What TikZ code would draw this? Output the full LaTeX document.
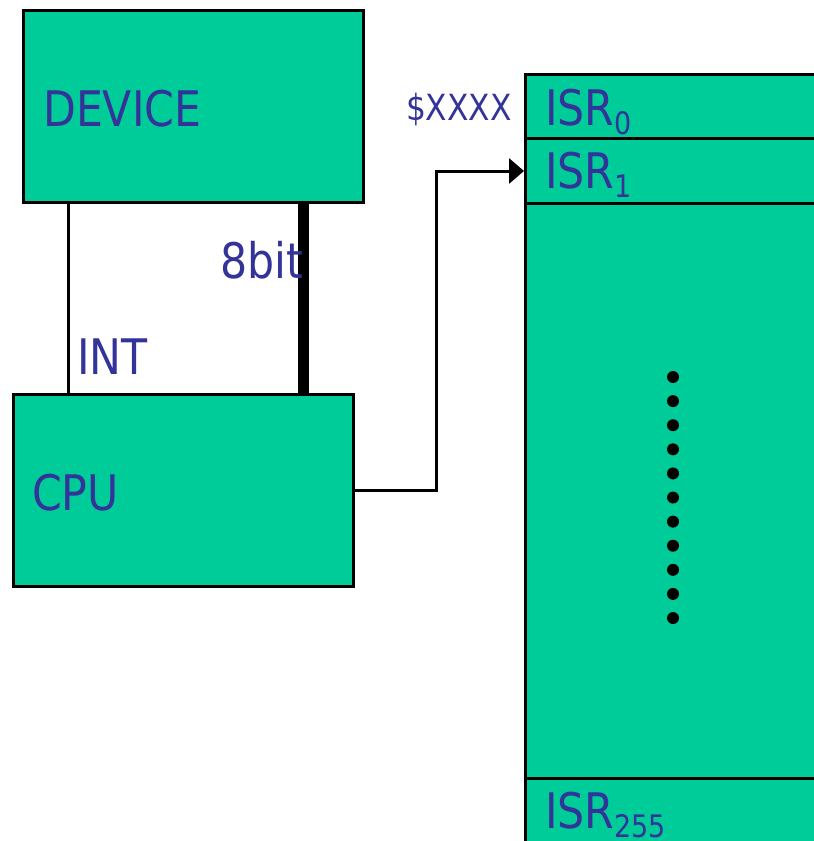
\documentclass[tikz,border=0pt]{standalone}
\usepackage{fontspec}
\setmainfont{DejaVu Sans}[FakeStretch=0.87]
\usepackage{xcolor}
\usetikzlibrary{arrows.meta}
\definecolor{boxcolor}{RGB}{0,204,153}
\definecolor{labelcolor}{RGB}{51,51,153}
\newcommand{\isrname}[1]{ISR\raisebox{-9pt}{\fontsize{31}{32}\selectfont #1}}

\begin{document}
\begin{tikzpicture}[
    x=1pt, y=-1pt,
    box/.style={rectangle, draw, line width=2.5pt, fill=boxcolor, inner sep=0pt, anchor=north west},
    rowbox/.style={box, line width=3pt, minimum width=330pt},
    lbl/.style={anchor=base west, inner sep=0pt, text=labelcolor, font=\fontsize{49}{55}\selectfont},
    wire/.style={line width=3pt},
    bus/.style={line width=11pt},
    arrow/.style={wire, -{Triangle[length=15pt, width=25pt]}}
]

% Frame
\path[use as bounding box, clip] (0,0) rectangle (814,841);

% Device and CPU
\node[box, minimum width=340pt, minimum height=192pt] (device) at (22,9) {};
\node[box, minimum width=340pt, minimum height=192pt] (cpu) at (12,393) {};

% Vector table
\node[rowbox, minimum height=64pt] (isr0) at (524,73) {};
\node[rowbox, minimum height=65pt] (isr1) at (524,137) {};
\node[rowbox, minimum height=575pt] (mid) at (524,202) {};
\node[rowbox, minimum height=100pt] (isr255) at (524,777) {};

% Helper columns
\coordinate (intx) at (68,0);
\coordinate (busx) at (303.5,0);
\coordinate (turnx) at (436,0);

% Lines
\draw[wire] (intx |- device.south) -- (intx |- cpu.north);
\draw[bus] (busx |- device.south) -- (busx |- cpu.north);
\draw[arrow] (cpu.east) -| (turnx |- isr1.west) -- (isr1.west);

% Dots
\foreach \i in {0,...,10}
    \fill (673, 377+24.1*\i) circle (6pt);

% Labels
\node[lbl] (devicetxt) at (43,126) {DEVICE};
\node[lbl] (cputxt) at (32,510) {CPU};
\node[lbl] (inttxt) at (77,374) {INT};
\node[lbl] (bustxt) at (220,278) {8bit};
\node[lbl, anchor=base east, font=\fontsize{36}{40}\selectfont] (addrtxt) at (512,120) {\$XXXX};
\node[lbl] (isr0txt) at (545,125) {\isrname{0}};
\node[lbl] (isr1txt) at (545,188) {\isrname{1}};
\node[lbl] (isr255txt) at (545,828) {\isrname{255}};

\end{tikzpicture}
\end{document}
